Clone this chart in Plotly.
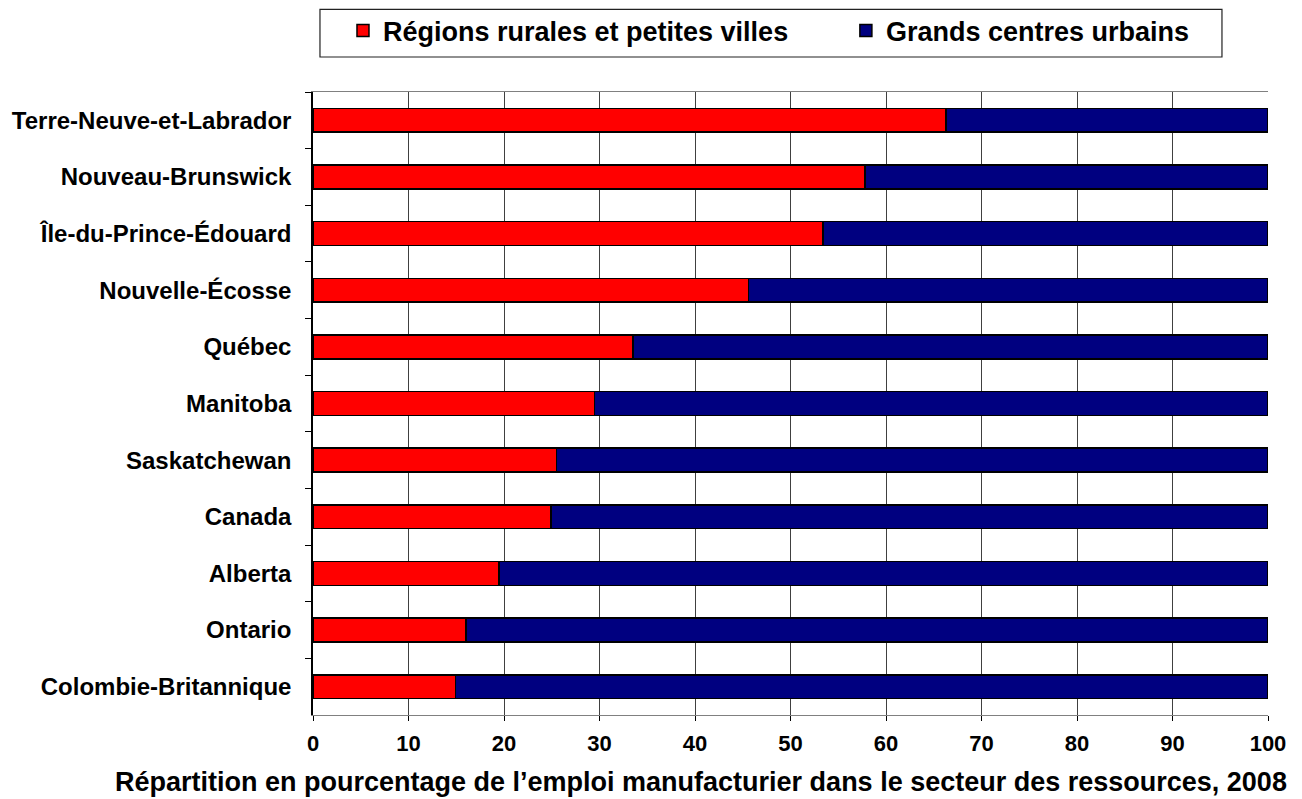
import plotly.graph_objects as go

provinces = [
    "Terre-Neuve-et-Labrador",
    "Nouveau-Brunswick",
    "Île-du-Prince-Édouard",
    "Nouvelle-Écosse",
    "Québec",
    "Manitoba",
    "Saskatchewan",
    "Canada",
    "Alberta",
    "Ontario",
    "Colombie-Britannique",
]
rural = [66.3, 57.8, 53.4, 45.6, 33.5, 29.5, 25.5, 24.9, 19.5, 16.0, 14.9]
urbain = [round(100 - v, 1) for v in rural]

FONT = "Liberation Sans, Arial, sans-serif"

fig = go.Figure()
fig.add_trace(go.Bar(
    y=provinces, x=rural, orientation="h", name="Régions rurales et petites villes",
    marker=dict(color="#FF0000", line=dict(color="black", width=1.5)),
    legend="legend",
))
fig.add_trace(go.Bar(
    y=provinces, x=urbain, orientation="h", name="Grands centres urbains",
    marker=dict(color="#000080", line=dict(color="black", width=1.5)),
    legend="legend2",
))

# page body has an 8px margin, so the figure is sized/offset to compensate
leg_style = dict(
    orientation="h", yanchor="middle", xanchor="left", y=1.0979,
    bgcolor="rgba(0,0,0,0)", borderwidth=0,
    font=dict(size=27, weight="bold"),
)
fig.update_layout(
    width=1294, height=791,
    barmode="stack", bargap=0.58,
    plot_bgcolor="white", paper_bgcolor="white",
    margin=dict(l=305, r=34, t=84, b=84, autoexpand=False),
    font=dict(family=FONT, color="black"),
    legend=dict(x=0.0314, **leg_style),
    legend2=dict(x=0.558, **leg_style),
    showlegend=True,
)
fig.add_shape(
    type="rect", xref="paper", yref="paper",
    x0=0.0073, x1=0.9518, y0=1.0562, y1=1.1325,
    line=dict(color="#222222", width=1.2), fillcolor="rgba(0,0,0,0)", layer="below",
)
fig.update_xaxes(
    range=[0, 100], dtick=10, tick0=0,
    showgrid=True, gridcolor="#404040", gridwidth=1,
    showline=True, linecolor="#808080", linewidth=1, mirror=True,
    ticks="outside", ticklen=5, tickcolor="black",
    tickfont=dict(size=22, weight="bold"),
    ticklabelstandoff=4,
    zeroline=False,
)
fig.update_yaxes(
    autorange="reversed",
    showline=True, linecolor="black", linewidth=1.5,
    ticks="outside", ticklen=6, tickcolor="black", tickson="boundaries",
    tickfont=dict(size=24, weight="bold"),
    ticklabelstandoff=15,
    showgrid=False,
)
fig.add_annotation(
    text="Répartition en pourcentage de l’emploi manufacturier dans le secteur des ressources, 2008",
    xref="paper", yref="paper", x=0.406, y=-0.1075, xanchor="center", yanchor="middle",
    showarrow=False, font=dict(size=27, weight="bold", family=FONT),
)

fig.write_html("out.html")
